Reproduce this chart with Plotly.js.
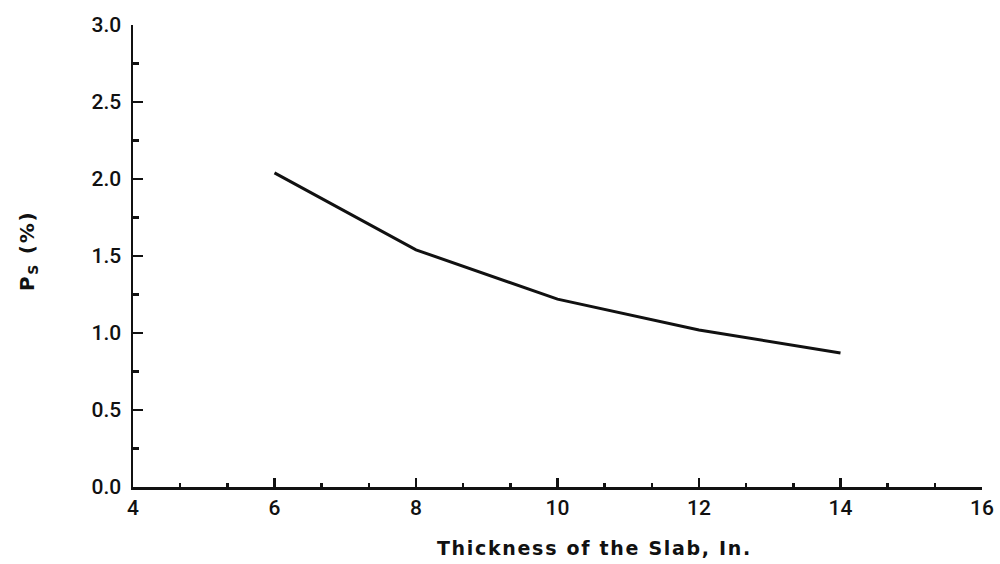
<!DOCTYPE html>
<html>
<head>
<meta charset="utf-8">
<script src="https://cdn.plot.ly/plotly-3.0.1.min.js"></script>
<style>
html,body{margin:0;padding:0;background:#fff;}
#chart{width:1000px;height:564px;}
#chart .annotation-text{letter-spacing:1.7px;}
</style>
</head>
<body>
<div id="chart"></div>
<script>
const thickness = [6, 8, 10, 12, 14];
const psPercent = [2.04, 1.54, 1.22, 1.02, 0.87];
const xTickVals = [4, 6, 8, 10, 12, 14, 16];
const yTickVals = [0, 0.5, 1.0, 1.5, 2.0, 2.5, 3.0];
const yTickText = ["0.0", "0.5", "1.0", "1.5", "2.0", "2.5", "3.0"];
const xTitle = 'Thickness of the Slab, In.';
const yTitle = 'P<sub>S</sub> (%)';

const trace = {
  x: thickness,
  y: psPercent,
  type: 'scatter',
  mode: 'lines',
  line: {color: '#111', width: 3},
  hoverinfo: 'x+y'
};

const tickFont = {family: 'Roboto, Liberation Sans, Arial, sans-serif', size: 21, color: '#111', weight: 500};
const titleFamily = 'DejaVu Sans, Liberation Sans, Arial, sans-serif';

const layout = {
  width: 1000, height: 564,
  margin: {l: 133, r: 18, t: 25, b: 77},
  paper_bgcolor: '#fff', plot_bgcolor: '#fff',
  showlegend: false,
  xaxis: {
    range: [4, 16],
    tickmode: 'array', tickvals: xTickVals,
    ticks: 'inside', ticklen: 9, tickwidth: 2.5, tickcolor: '#111',
    showline: true, linecolor: '#111', linewidth: 2.5,
    showgrid: false, zeroline: false,
    tickfont: tickFont, ticklabelstandoff: 0,
    minor: {tick0: 4, dtick: 2/3, ticks: 'inside', ticklen: 4, tickwidth: 2.5, tickcolor: '#111', showgrid: false},
    fixedrange: true
  },
  yaxis: {
    range: [0, 3],
    tickmode: 'array', tickvals: yTickVals, ticktext: yTickText,
    ticks: 'inside', ticklen: 10, tickwidth: 2.5, tickcolor: '#111',
    showline: true, linecolor: '#111', linewidth: 2.5,
    showgrid: false, zeroline: false,
    tickfont: tickFont, ticklabelstandoff: 5,
    minor: {tick0: 0, dtick: 0.25, ticks: 'inside', ticklen: 6, tickwidth: 2.5, tickcolor: '#111', showgrid: false},
    fixedrange: true
  },
  annotations: [
    {text: xTitle, xref: 'paper', yref: 'paper', x: 0.544, y: -0.132, xanchor: 'center', yanchor: 'middle',
     showarrow: false, font: {family: titleFamily, size: 19, color: '#111', weight: 'bold'}},
    {text: yTitle, xref: 'paper', yref: 'paper', x: -0.1237, y: 0.511, xanchor: 'center', yanchor: 'middle',
     textangle: -90, showarrow: false, font: {family: titleFamily, size: 20, color: '#111', weight: 'bold'}}
  ]
};

Plotly.newPlot('chart', [trace], layout, {displayModeBar: false, staticPlot: true});
</script>
</body>
</html>
